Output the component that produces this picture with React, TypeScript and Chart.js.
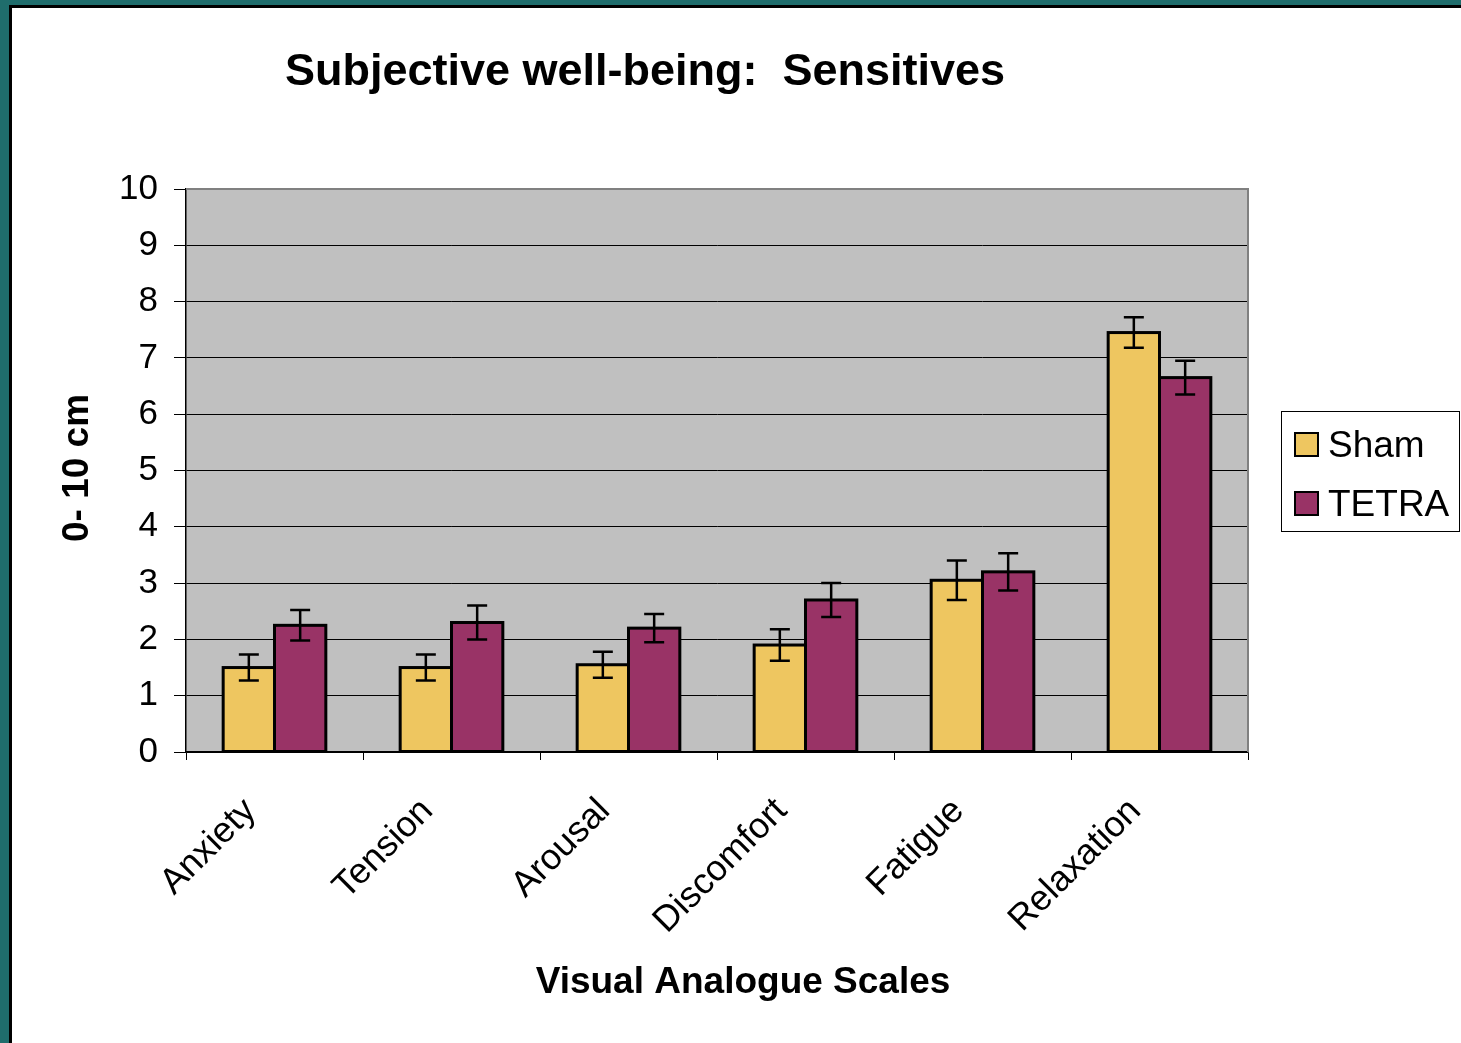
import { useEffect, useRef } from 'react';
import { Chart, registerables } from 'chart.js';

Chart.register(...registerables);

const categories = ['Anxiety', 'Tension', 'Arousal', 'Discomfort', 'Fatigue', 'Relaxation'];
const shamValues = [1.5, 1.5, 1.55, 1.9, 3.05, 7.45];
const tetraValues = [2.25, 2.3, 2.2, 2.7, 3.2, 6.65];
const shamErrors = [0.23, 0.23, 0.23, 0.28, 0.35, 0.27];
const tetraErrors = [0.27, 0.3, 0.25, 0.3, 0.33, 0.3];
const seriesNames = ['Sham', 'TETRA'];
const seriesColors = ['#EEC660', '#993366'];
const chartTitle = 'Subjective well-being:  Sensitives';
const xTitle = 'Visual Analogue Scales';
const yTitle = '0- 10 cm';

const FONT = '"Liberation Sans", Arial, sans-serif';

export default function App() {
  const ref = useRef<HTMLCanvasElement | null>(null);

  useEffect(() => {
    const canvas = ref.current;
    if (!canvas) return;
    const errors = [shamErrors, tetraErrors];

    const plotBg = {
      id: 'plotBg',
      beforeDraw(chart: any) {
        const { ctx, chartArea: a } = chart;
        ctx.save();
        ctx.fillStyle = '#C0C0C0';
        ctx.fillRect(a.left, a.top, a.right - a.left, a.bottom - a.top);
        ctx.restore();
      },
      beforeDatasetsDraw(chart: any) {
        const { ctx, chartArea: a } = chart;
        ctx.save();
        ctx.strokeStyle = '#808080';
        ctx.lineWidth = 2;
        ctx.beginPath();
        ctx.moveTo(a.left, a.top);
        ctx.lineTo(a.right, a.top);
        ctx.lineTo(a.right, a.bottom);
        ctx.stroke();
        ctx.restore();
      },
    };

    const barDecor = {
      id: 'barDecor',
      afterDatasetsDraw(chart: any) {
        const { ctx } = chart;
        const yScale = chart.scales.y;
        ctx.save();
        chart.data.datasets.forEach((_ds: any, di: number) => {
          const meta = chart.getDatasetMeta(di);
          meta.data.forEach((bar: any) => {
            const w = bar.width;
            ctx.strokeStyle = '#000';
            ctx.lineWidth = 3;
            ctx.strokeRect(bar.x - w / 2, bar.y, w, bar.base - bar.y);
          });
        });
        chart.data.datasets.forEach((ds: any, di: number) => {
          const meta = chart.getDatasetMeta(di);
          meta.data.forEach((bar: any, i: number) => {
            const v = ds.data[i];
            const e = errors[di][i];
            const yTop = yScale.getPixelForValue(v + e);
            const yBot = yScale.getPixelForValue(v - e);
            const cap = 10;
            ctx.strokeStyle = '#000';
            ctx.lineWidth = 2.5;
            ctx.beginPath();
            ctx.moveTo(bar.x, yTop);
            ctx.lineTo(bar.x, yBot);
            ctx.moveTo(bar.x - cap, yTop);
            ctx.lineTo(bar.x + cap, yTop);
            ctx.moveTo(bar.x - cap, yBot);
            ctx.lineTo(bar.x + cap, yBot);
            ctx.stroke();
          });
        });
        ctx.restore();
      },
    };

    const texts = {
      id: 'texts',
      afterDraw(chart: any) {
        const { ctx } = chart;
        ctx.save();
        ctx.fillStyle = '#000';
        // title
        ctx.font = `bold 45px ${FONT}`;
        ctx.textAlign = 'center';
        ctx.textBaseline = 'alphabetic';
        ctx.fillText(chartTitle, 645, 85);
        // x axis title
        ctx.font = `bold 37px ${FONT}`;
        ctx.fillText(xTitle, 743, 993);
        // y axis title
        ctx.save();
        ctx.translate(88, 468);
        ctx.rotate(-Math.PI / 2);
        ctx.fillText(yTitle, 0, 0);
        ctx.restore();
        // legend
        ctx.strokeStyle = '#000';
        ctx.lineWidth = 1;
        ctx.fillStyle = '#fff';
        ctx.fillRect(1281.5, 411.5, 178, 120);
        ctx.strokeRect(1281.5, 411.5, 178, 120);
        const rows = [433, 492];
        ctx.font = `37px ${FONT}`;
        ctx.textAlign = 'left';
        seriesNames.forEach((name, i) => {
          const y = rows[i];
          ctx.fillStyle = seriesColors[i];
          ctx.fillRect(1295, y, 23, 23);
          ctx.lineWidth = 2;
          ctx.strokeStyle = '#000';
          ctx.strokeRect(1295, y, 23, 23);
          ctx.fillStyle = '#000';
          ctx.fillText(name, 1328, y + 24);
        });
        ctx.restore();
      },
    };

    const chart = new Chart(canvas, {
      type: 'bar',
      data: {
        labels: categories,
        datasets: [
          { label: seriesNames[0], data: shamValues, backgroundColor: seriesColors[0], borderWidth: 0 },
          { label: seriesNames[1], data: tetraValues, backgroundColor: seriesColors[1], borderWidth: 0 },
        ],
      },
      options: {
        responsive: false,
        animation: false,
        devicePixelRatio: 1,
        layout: { padding: { left: 0, top: 189, right: 213, bottom: 0 } },
        datasets: { bar: { categoryPercentage: 0.58, barPercentage: 1 } },
        plugins: {
          legend: { display: false },
          title: { display: false },
          tooltip: { enabled: false },
        },
        scales: {
          x: {
            grid: {
              offset: true,
              drawOnChartArea: false,
              drawTicks: true,
              tickLength: 8,
              color: '#000',
              tickColor: '#000',
              lineWidth: 1,
            },
            border: { display: true, color: '#000', width: 1.5 },
            ticks: {
              autoSkip: false,
              maxRotation: 45,
              minRotation: 45,
              padding: 30,
              labelOffset: -24,
              color: '#000',
              font: { family: FONT, size: 36 },
            },
            afterFit(s: any) {
              s.height = 291;
              s.paddingLeft = 0;
              s.paddingRight = 0;
            },
          },
          y: {
            min: 0,
            max: 10,
            ticks: {
              stepSize: 1,
              padding: 16,
              color: '#000',
              font: { family: FONT, size: 35 },
            },
            grid: {
              color: (c: any) => (c.tick && c.tick.value === 10 ? 'rgba(0,0,0,0)' : '#000'),
              tickColor: '#000',
              tickLength: 12,
              lineWidth: 1,
            },
            border: { display: true, color: '#000', width: 1.5 },
            afterFit(s: any) {
              s.width = 186;
              s.paddingTop = 0;
              s.paddingBottom = 0;
            },
          },
        },
      } as any,
      plugins: [plotBg, barDecor, texts],
    });

    return () => chart.destroy();
  }, []);

  return (
    <div style={{ position: 'fixed', left: 0, top: 0, width: 1461, height: 1043, background: '#1f6d6c', overflow: 'hidden' }}>
      <div
        style={{
          position: 'absolute',
          left: 9,
          top: 5,
          width: 1500,
          height: 1100,
          background: '#fff',
          borderLeft: '3px solid #000',
          borderTop: '3px solid #000',
        }}
      />
      <canvas
        ref={ref}
        width={1461}
        height={1043}
        style={{ position: 'absolute', left: 0, top: 0, width: 1461, height: 1043, display: 'block' }}
      />
    </div>
  );
}
